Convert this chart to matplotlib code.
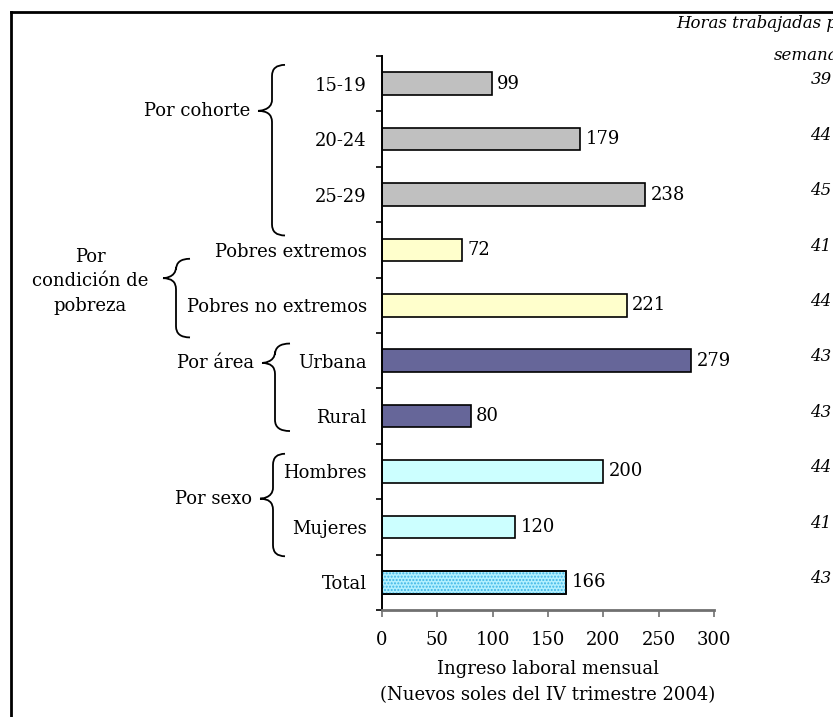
import matplotlib
import numpy as np

matplotlib.use("Agg")

from matplotlib import pyplot as plt  # noqa: E402
from matplotlib import transforms  # noqa: E402
from matplotlib.lines import Line2D  # noqa: E402
from matplotlib.patches import PathPatch  # noqa: E402
from matplotlib.path import Path  # noqa: E402

categories = [
    "15-19", "20-24", "25-29",
    "Pobres extremos", "Pobres no extremos",
    "Urbana", "Rural",
    "Hombres", "Mujeres",
    "Total",
]
ingreso = [99, 179, 238, 72, 221, 279, 80, 200, 120, 166]
horas = [39, 44, 45, 41, 44, 43, 43, 44, 41, 43]
colores = [
    "#c0c0c0", "#c0c0c0", "#c0c0c0",
    "#ffffcc", "#ffffcc",
    "#666699", "#666699",
    "#ccffff", "#ccffff",
    "#b3f0ff",
]
# group name, first row, last row, row the brace points at
grupos = [
    ("Por cohorte", -0.34, 2.74, 0.49),
    ("Por\ncondición de\npobreza", 3.16, 4.58, 3.51),
    ("Por área", 4.69, 6.27, 5.04),
    ("Por sexo", 6.68, 8.53, 7.49),
]
x_ticks = [0, 50, 100, 150, 200, 250, 300]

W, H = 833, 717
plt.rcParams["font.family"] = ["DejaVu Serif"]
plt.rcParams["font.size"] = 13

fig = plt.figure(figsize=(W / 100, H / 100), dpi=100)
ax = fig.add_axes([382 / W, 1 - 610 / H, 332 / W, 554 / H])

pos = np.arange(len(categories))
bars = ax.barh(pos, ingreso, height=0.41, color=colores,
               edgecolor="black", linewidth=1.2, zorder=2)
# dotted fill on the total bar
ax.barh(pos[-1], ingreso[-1], height=0.41, fill=False, hatch=".....",
        edgecolor="#3db5e6", linewidth=0, zorder=3)
ax.barh(pos[-1], ingreso[-1], height=0.41, fill=False,
        edgecolor="black", linewidth=1.2, zorder=4)
ax.bar_label(bars, labels=[str(v) for v in ingreso], padding=4)

ax.set_xlim(0, 300)
ax.set_ylim(len(categories) - 0.5, -0.5)
ax.set_xticks(x_ticks)
ax.set_yticks(pos)
ax.set_yticklabels(categories)
ax.set_yticks(np.arange(len(categories) + 1) - 0.5, minor=True)
ax.tick_params(axis="y", which="major", length=0, pad=11)
ax.tick_params(axis="y", which="minor", length=4.5, width=1.2, color="black")
ax.tick_params(axis="x", length=5, width=1.2, color="#707070", pad=10)
for side in ("top", "right"):
    ax.spines[side].set_visible(False)
ax.spines["left"].set_linewidth(1.4)
ax.spines["bottom"].set_color("#707070")
ax.spines["bottom"].set_linewidth(2)
ax.set_xlabel("Ingreso laboral mensual\n(Nuevos soles del IV trimestre 2004)",
              labelpad=8, linespacing=1.55)

# braces and group names to the left of the category labels
btr = transforms.blended_transform_factory(fig.transFigure, ax.transData)
brace_x = [(258, 272, 285), (163, 176, 190), (262, 275, 290), (260, 273, 285)]
for (nombre, y0, y1, yt), (xt, xs, xe) in zip(grupos, brace_x):
    xt, xs, xe = xt / W, xs / W, xe / W
    r = 0.2
    verts = [
        (xe, y0), (xs, y0), (xs, y0 + r),
        (xs, yt - r),
        (xs, yt), (xt, yt), (xt, yt),
        (xs, yt), (xs, yt + r),
        (xs, y1 - r),
        (xs, y1), (xe, y1),
    ]
    codes = [Path.MOVETO, Path.CURVE3, Path.CURVE3, Path.LINETO,
             Path.CURVE4, Path.CURVE4, Path.CURVE4,
             Path.CURVE3, Path.CURVE3, Path.LINETO,
             Path.CURVE3, Path.CURVE3]
    patch = PathPatch(Path(verts, codes), facecolor="none", edgecolor="black",
                      linewidth=1.3, transform=btr, clip_on=False)
    fig.add_artist(patch)
    if "\n" in nombre:
        ax.text(90 / W, yt + 0.06, nombre, transform=btr, ha="center",
                va="center", linespacing=1.45)
    else:
        ax.text((xt - 8 / W), yt, nombre, transform=btr, ha="right",
                va="center")

# weekly hours column
fig.text(676 / W, 1 - 23 / H, "Horas trabajadas por", style="italic",
         fontsize=12, ha="left", va="center")
fig.text(774 / W, 1 - 56 / H, "semana", style="italic", fontsize=12,
         ha="left", va="center")
for i, h in enumerate(horas):
    ax.text(821 / W, i - 0.07, str(h), transform=btr, style="italic",
            fontsize=12, ha="center", va="center")

# frame around the figure
fig.add_artist(Line2D([11 / W, 11 / W], [0, 1 - 12 / H], color="black",
                      linewidth=2, transform=fig.transFigure))
fig.add_artist(Line2D([11 / W, 1], [1 - 12 / H, 1 - 12 / H], color="black",
                      linewidth=2, transform=fig.transFigure))

fig.savefig("out.png", dpi=100)
